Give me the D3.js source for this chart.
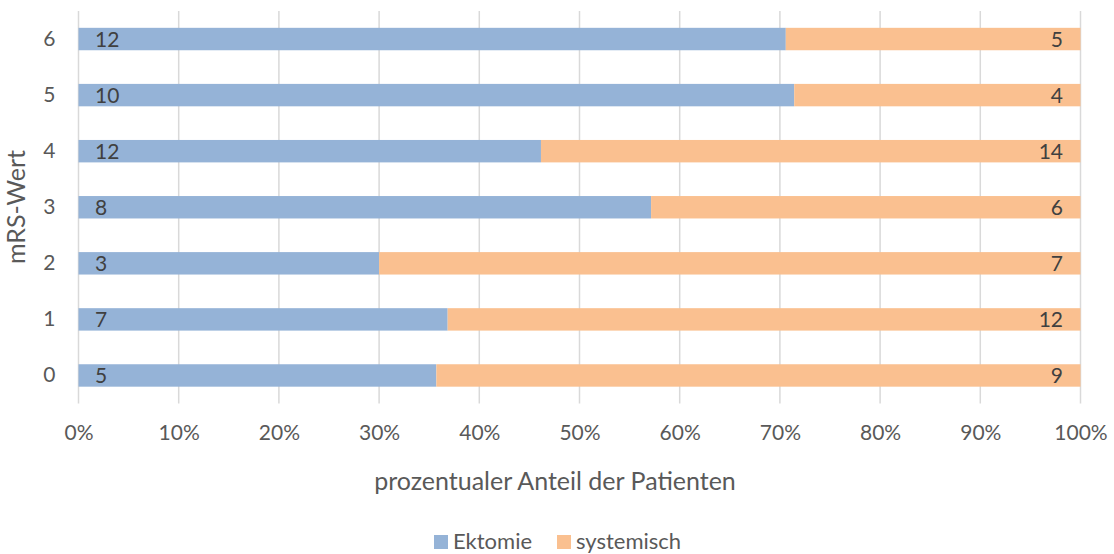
<!DOCTYPE html>
<html lang="de">
<head>
<meta charset="utf-8">
<title>mRS-Wert</title>
<script src="https://cdn.jsdelivr.net/npm/d3@7"></script>
<style>
  body { margin: 0; background: #fff; }
  text { font-family: Lato, "Open Sans", sans-serif; }
</style>
</head>
<body>
<script>
var categories = ["0", "1", "2", "3", "4", "5", "6"];
var ektomie = [5, 7, 3, 8, 12, 10, 12];
var systemisch = [9, 12, 7, 6, 14, 4, 5];
var xTicks = [0, 0.1, 0.2, 0.3, 0.4, 0.5, 0.6, 0.7, 0.8, 0.9, 1];
var seriesNames = ["Ektomie", "systemisch"];
var colors = ["#95b3d7", "#fac090"];

var w = 1114, h = 554;
var font = "Lato, 'Open Sans', sans-serif";

var svg = d3.select("body").append("svg")
  .attr("width", w).attr("height", h);

var x = d3.scaleLinear().domain([0, 1]).range([78.5, 1080.5]);
var y = d3.scaleBand().domain(categories.slice().reverse()).range([11, 403.5]).paddingInner(0.6).paddingOuter(0.3);

// gridlines
svg.append("g").selectAll("line")
  .data(xTicks).enter().append("line")
  .attr("x1", function(d) { return x(d); })
  .attr("x2", function(d) { return x(d); })
  .attr("y1", 11).attr("y2", 403.5)
  .attr("stroke", "#d9d9d9").attr("stroke-width", 1.5);

var rows = categories.map(function(c, i) {
  var tot = ektomie[i] + systemisch[i];
  return { cat: c, a: ektomie[i], b: systemisch[i], pa: ektomie[i] / tot };
});

var bars = svg.append("g");
bars.selectAll("rect.a").data(rows).enter().append("rect")
  .attr("x", x(0))
  .attr("y", function(d) { return y(d.cat); })
  .attr("width", function(d) { return x(d.pa) - x(0); })
  .attr("height", y.bandwidth())
  .attr("fill", colors[0]);
bars.selectAll("rect.b").data(rows).enter().append("rect")
  .attr("x", function(d) { return x(d.pa); })
  .attr("y", function(d) { return y(d.cat); })
  .attr("width", function(d) { return x(1) - x(d.pa); })
  .attr("height", y.bandwidth())
  .attr("fill", colors[1]);

// data labels
bars.selectAll("text.a").data(rows).enter().append("text")
  .attr("x", x(0) + 16.5)
  .attr("y", function(d) { return y(d.cat) + y.bandwidth() / 2; })
  .attr("dy", "0.36em")
  .attr("font-size", 21).attr("fill", "#404040")
  .text(function(d) { return d.a; });
bars.selectAll("text.b").data(rows).enter().append("text")
  .attr("x", x(1) - 17.5)
  .attr("y", function(d) { return y(d.cat) + y.bandwidth() / 2; })
  .attr("dy", "0.36em")
  .attr("text-anchor", "end")
  .attr("font-size", 21).attr("fill", "#404040")
  .text(function(d) { return d.b; });

// axes
var xAxis = svg.append("g").attr("transform", "translate(0,403)")
  .call(d3.axisBottom(x).tickValues(xTicks).tickFormat(d3.format(".0%")).tickSize(0).tickPadding(22));
xAxis.select(".domain").remove();
xAxis.selectAll("text").attr("font-size", 21).attr("fill", "#595959").style("font-family", font);

var yAxis = svg.append("g").attr("transform", "translate(78.5,0)")
  .call(d3.axisLeft(y).tickSize(0).tickPadding(23));
yAxis.select(".domain").remove();
yAxis.selectAll("text").attr("font-size", 21).attr("fill", "#595959").style("font-family", font);

// titles
svg.append("text")
  .attr("x", 555).attr("y", 490)
  .attr("text-anchor", "middle")
  .attr("font-size", 25).attr("fill", "#595959")
  .text("prozentualer Anteil der Patienten");
svg.append("text")
  .attr("transform", "translate(25,207) rotate(-90)")
  .attr("text-anchor", "middle")
  .attr("font-size", 25).attr("fill", "#595959")
  .text("mRS-Wert");

// legend
var legend = svg.append("g");
var lx = [434, 557];
seriesNames.forEach(function(n, i) {
  legend.append("rect").attr("x", lx[i]).attr("y", 535).attr("width", 14).attr("height", 14).attr("fill", colors[i]);
  legend.append("text").attr("x", lx[i] + 19).attr("y", 549)
    .attr("font-size", 22).attr("fill", "#595959").text(n);
});
</script>
</body>
</html>
